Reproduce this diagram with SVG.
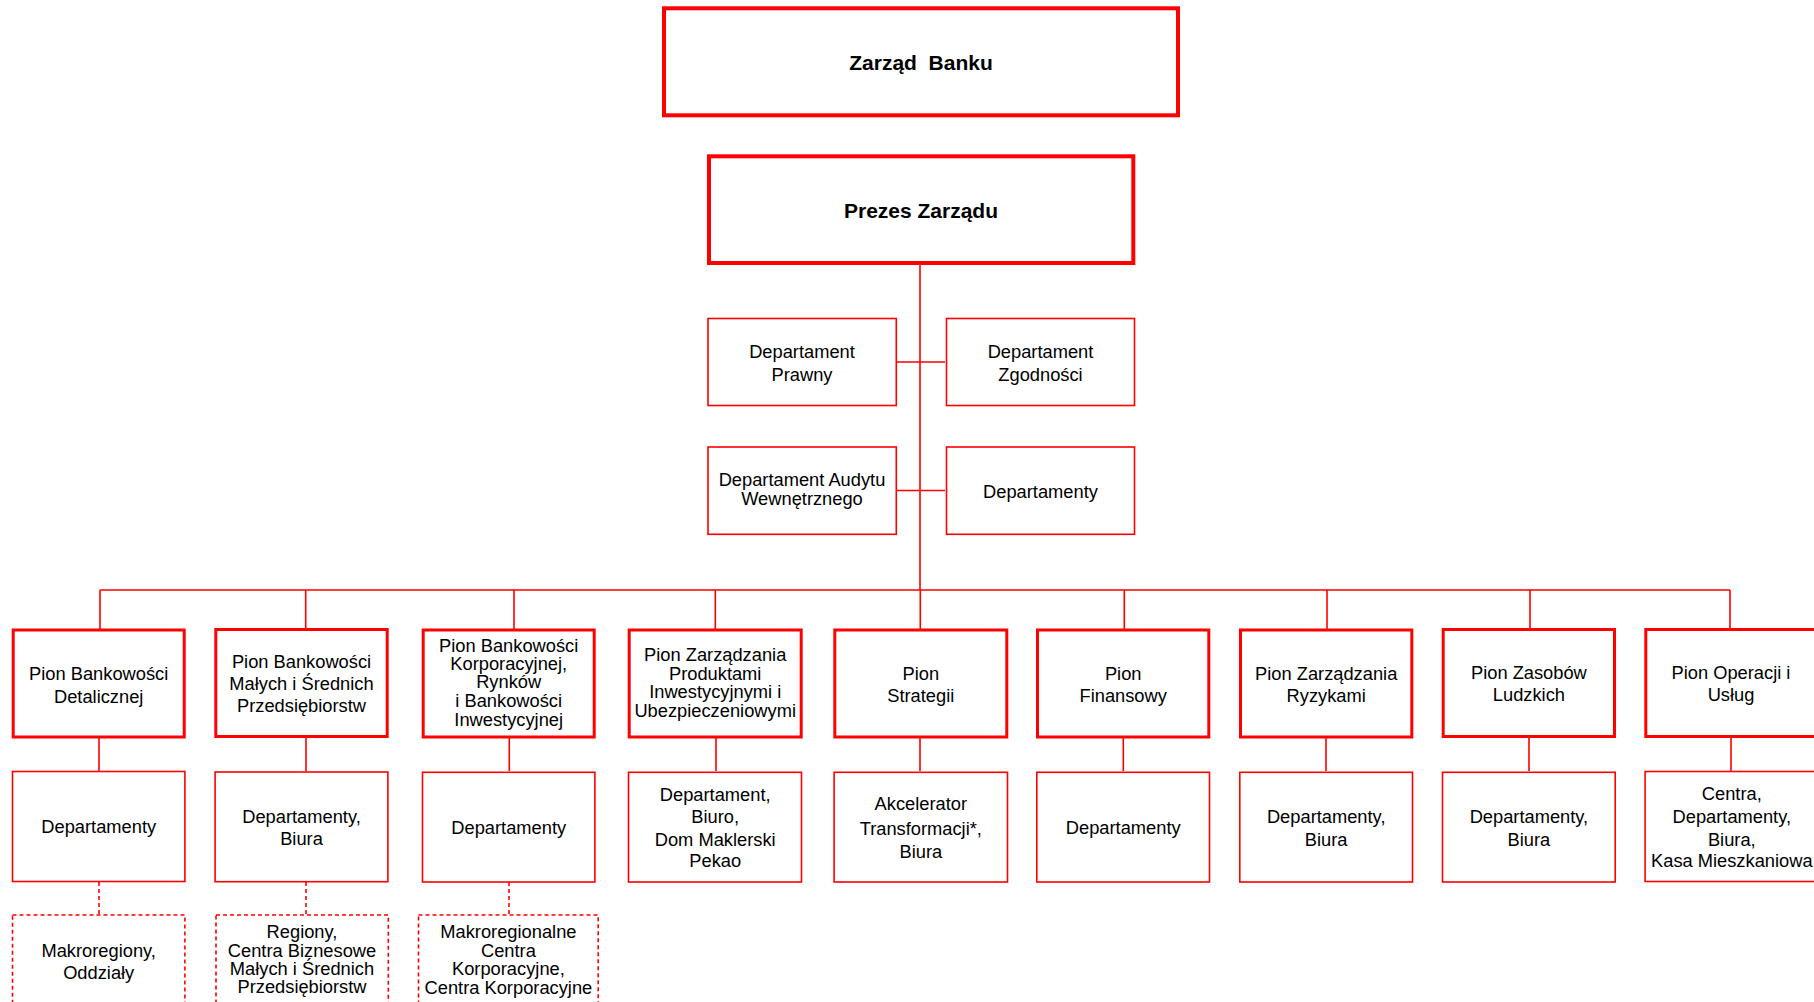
<svg xmlns="http://www.w3.org/2000/svg" width="1814" height="1002" viewBox="0 0 1814 1002">
<style>
text{font-family:"Liberation Sans",Arial,sans-serif;font-size:18.3px;fill:#000;text-anchor:middle}
.b{font-weight:bold;font-size:21px}
.top{fill:#fff;stroke:#ff0000;stroke-width:4}
.pion{fill:#fff;stroke:#ff0000;stroke-width:3}
.thin{fill:#fff;stroke:#ff0000;stroke-width:1.6}
.dash{fill:#fff;stroke:#ff0000;stroke-width:1.6;stroke-dasharray:4 3}
.c{fill:none;stroke:#ff0000;stroke-width:1.6}
.cd{fill:none;stroke:#ff0000;stroke-width:1.6;stroke-dasharray:4 3}
</style>
<rect width="1814" height="1002" fill="#fff"/>
<g id="connectors">
<path class="c" d="M920 263V590M897 362H945M897 490.5H945M100 590H1730"/>
<path class="c" d="M100 590V629M305.7 590V629M514 590V629M715.3 590V629M920.3 590V629M1124.3 590V629M1327 590V629M1530 590V629M1730 590V629"/>
<path class="c" d="M99 738V771M306 738V771M509.3 738V771M716 738V771M920 738V771M1123.3 738V771M1326 738V771M1529 738V771M1731 738V771"/>
<path class="cd" d="M99 882V914M306 882V914M509 882V914"/>
</g>
<g id="zarzad"><rect class="top" x="664" y="8.3" width="514" height="107"/><text class="b" x="921" y="70" xml:space="preserve">Zarząd  Banku</text></g>
<g id="prezes"><rect class="top" x="709" y="156.3" width="424.3" height="106.7"/><text class="b" x="921" y="218.3">Prezes Zarządu</text></g>
<g id="dep-prawny"><rect class="thin" x="708" y="318.5" width="188.3" height="87"/><text x="802" y="357.5">Departament</text><text x="802" y="380.5">Prawny</text></g>
<g id="dep-zgodnosci"><rect class="thin" x="946.5" y="318.5" width="188" height="87"/><text x="1040.5" y="357.5">Departament</text><text x="1040.5" y="380.5">Zgodności</text></g>
<g id="dep-audytu"><rect class="thin" x="708" y="447" width="188.3" height="87.3"/><text x="802" y="485.5">Departament Audytu</text><text x="802" y="505">Wewnętrznego</text></g>
<g id="dep-inne"><rect class="thin" x="946.5" y="447" width="188" height="87.3"/><text x="1040.5" y="498.3">Departamenty</text></g>

<g id="pion1"><rect class="pion" x="13.2" y="630" width="171" height="107"/><text x="98.7" y="680">Pion Bankowości</text><text x="98.7" y="703.3">Detalicznej</text></g>
<g id="pion2"><rect class="pion" x="215.8" y="629.5" width="171.4" height="107"/><text x="301.5" y="668.3">Pion Bankowości</text><text x="301.5" y="690">Małych i Średnich</text><text x="301.5" y="712.3">Przedsiębiorstw</text></g>
<g id="pion3"><rect class="pion" x="423.2" y="630" width="171" height="107"/><text x="508.7" y="651.5">Pion Bankowości</text><text x="508.7" y="669.8">Korporacyjnej,</text><text x="508.7" y="688.3">Rynków</text><text x="508.7" y="707">i Bankowości</text><text x="508.7" y="725.5">Inwestycyjnej</text></g>
<g id="pion4"><rect class="pion" x="629.2" y="630" width="172" height="107"/><text x="715.2" y="661">Pion Zarządzania</text><text x="715.2" y="679.5">Produktami</text><text x="715.2" y="698.2">Inwestycyjnymi i</text><text x="715.2" y="716.7">Ubezpieczeniowymi</text></g>
<g id="pion5"><rect class="pion" x="834.8" y="630" width="172" height="107"/><text x="920.8" y="680">Pion</text><text x="920.8" y="702.3">Strategii</text></g>
<g id="pion6"><rect class="pion" x="1037.5" y="630" width="171.3" height="107"/><text x="1123.2" y="680">Pion</text><text x="1123.2" y="702.3">Finansowy</text></g>
<g id="pion7"><rect class="pion" x="1240.5" y="630" width="171.3" height="107"/><text x="1326.2" y="680">Pion Zarządzania</text><text x="1326.2" y="702.3">Ryzykami</text></g>
<g id="pion8"><rect class="pion" x="1443.2" y="629.5" width="171.3" height="107"/><text x="1528.9" y="679">Pion Zasobów</text><text x="1528.9" y="701">Ludzkich</text></g>
<g id="pion9"><rect class="pion" x="1645.8" y="629.5" width="171" height="107"/><text x="1731" y="679">Pion Operacji i</text><text x="1731" y="701">Usług</text></g>

<g id="dep1"><rect class="thin" x="12.5" y="771.5" width="172.4" height="110"/><text x="98.7" y="833.3">Departamenty</text></g>
<g id="dep2"><rect class="thin" x="215.1" y="772" width="172.8" height="109.7"/><text x="301.5" y="823.3">Departamenty,</text><text x="301.5" y="845">Biura</text></g>
<g id="dep3"><rect class="thin" x="422.5" y="772.3" width="172.4" height="109.7"/><text x="508.7" y="834.3">Departamenty</text></g>
<g id="dep4"><rect class="thin" x="628.5" y="772.3" width="173" height="109.7"/><text x="715.2" y="801">Departament,</text><text x="715.2" y="822.7">Biuro,</text><text x="715.2" y="845.5">Dom Maklerski</text><text x="715.2" y="867.3">Pekao</text></g>
<g id="dep5"><rect class="thin" x="834.1" y="772.3" width="173.4" height="109.7"/><text x="920.8" y="810">Akcelerator</text><text x="920.8" y="835">Transformacji*,</text><text x="920.8" y="857.7">Biura</text></g>
<g id="dep6"><rect class="thin" x="1036.8" y="772.3" width="172.7" height="109.7"/><text x="1123.2" y="834.3">Departamenty</text></g>
<g id="dep7"><rect class="thin" x="1239.8" y="772.3" width="172.7" height="109.7"/><text x="1326.2" y="823.3">Departamenty,</text><text x="1326.2" y="845.7">Biura</text></g>
<g id="dep8"><rect class="thin" x="1442.5" y="772.3" width="172.7" height="109.7"/><text x="1528.9" y="823.3">Departamenty,</text><text x="1528.9" y="845.7">Biura</text></g>
<g id="dep9"><rect class="thin" x="1645.1" y="771.5" width="172.7" height="110"/><text x="1731.8" y="800">Centra,</text><text x="1731.8" y="823.3">Departamenty,</text><text x="1731.8" y="845.7">Biura,</text><text x="1731.8" y="866.7">Kasa Mieszkaniowa</text></g>

<g id="reg1"><rect class="dash" x="12.5" y="915" width="172.4" height="110"/><text x="98.7" y="956.7">Makroregiony,</text><text x="98.7" y="979">Oddziały</text></g>
<g id="reg2"><rect class="dash" x="216" y="915" width="172.3" height="110"/><text x="302" y="938.3">Regiony,</text><text x="302" y="956.7">Centra Biznesowe</text><text x="302" y="975">Małych i Średnich</text><text x="302" y="993.3">Przedsiębiorstw</text></g>
<g id="reg3"><rect class="dash" x="418.5" y="915" width="179.7" height="110"/><text x="508.4" y="938.3">Makroregionalne</text><text x="508.4" y="956.7">Centra</text><text x="508.4" y="975">Korporacyjne,</text><text x="508.4" y="993.8">Centra Korporacyjne</text></g>
</svg>
